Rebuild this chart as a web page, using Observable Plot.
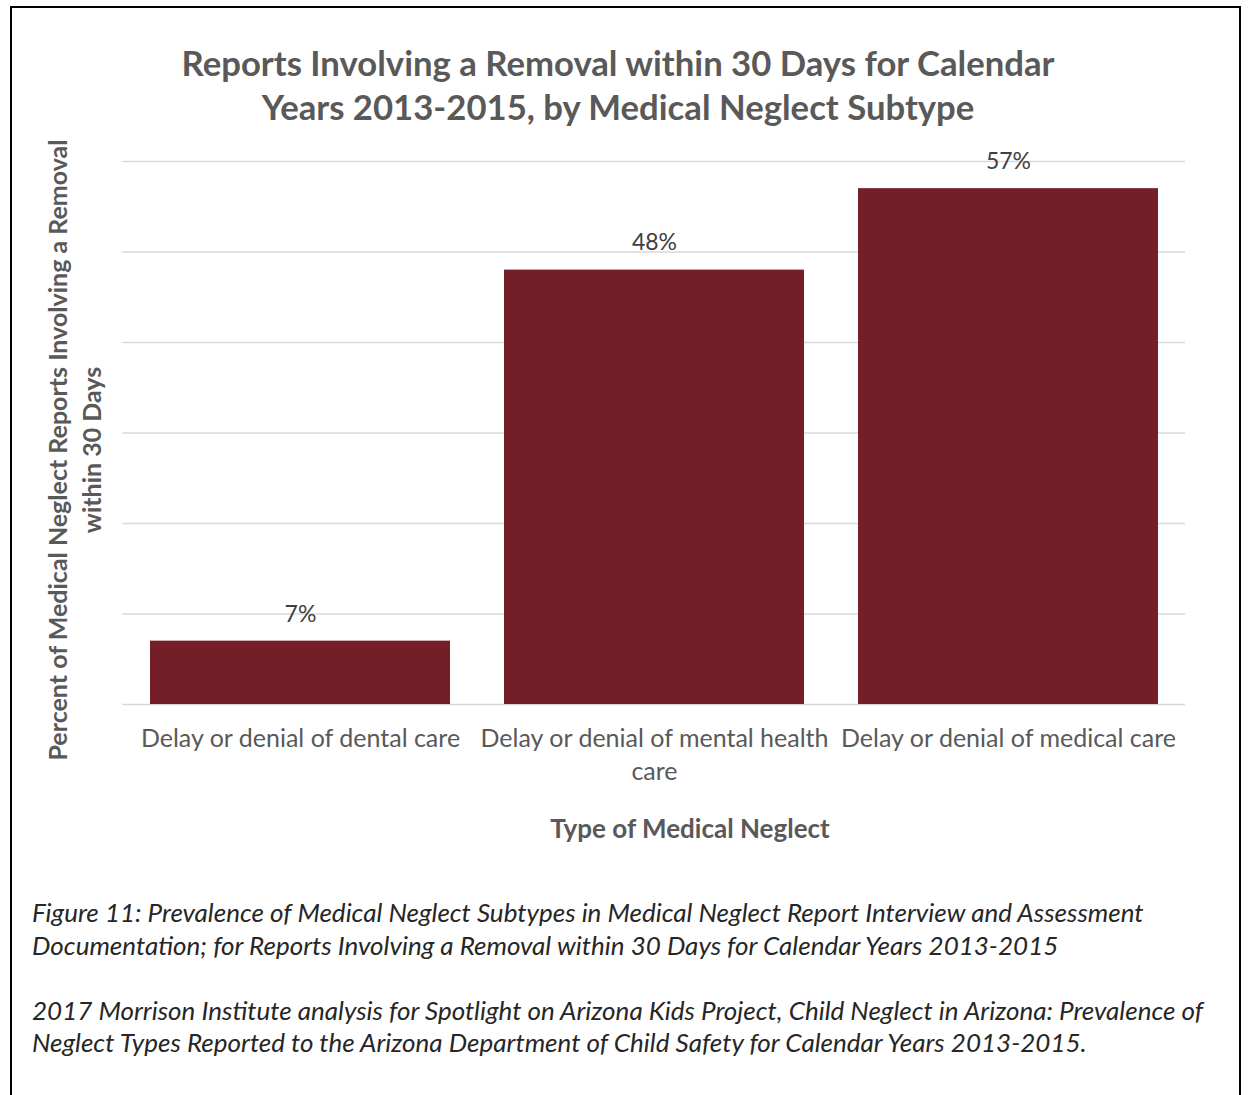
<!DOCTYPE html>
<html>
<head>
<meta charset="utf-8">
<script src="https://cdn.jsdelivr.net/npm/d3@7"></script>
<script src="https://cdn.jsdelivr.net/npm/@observablehq/plot@0.6"></script>
<style>
  html, body { margin: 0; padding: 0; background: #fff; }
  #page { position: relative; width: 1248px; height: 1095px; overflow: hidden; font-family: Lato, "Open Sans", sans-serif; }
  #frame { position: absolute; left: 10px; top: 6px; width: 1231px; height: 1100px; border: 2px solid #000; box-sizing: border-box; }
  #title { position: absolute; left: 0; width: 1236px; top: 41px; text-align: center; font-weight: 700; font-size: 34.7px; line-height: 44px; color: #595959; white-space: nowrap; }
  #ylabel { position: absolute; left: 74px; top: 450px; width: 800px; transform: translate(-50%, -50%) rotate(-90deg); text-align: center; font-weight: 700; font-size: 25px; line-height: 34px; color: #595959; white-space: nowrap; }
  #xlabel { position: absolute; left: 690px; top: 828px; transform: translate(-50%, -50%); font-weight: 700; font-size: 26px; color: #595959; white-space: nowrap; }
  #caption { position: absolute; left: 32px; top: 896px; font-style: italic; font-size: 26px; line-height: 32.5px; color: #262626; white-space: nowrap; }
  #caption p { margin: 0 0 32.5px 0; }
  #chart { position: absolute; left: 0; top: 0; }
</style>
</head>
<body>
<div id="page">
  <div id="chart"></div>
  <div id="frame"></div>
  <div id="title">Reports Involving a Removal within 30 Days for Calendar<br>Years 2013-2015, by Medical Neglect Subtype</div>
  <div id="ylabel">Percent of Medical Neglect Reports Involving a Removal<br>within 30 Days</div>
  <div id="xlabel">Type of Medical Neglect</div>
  <div id="caption">
    <p>Figure 11: Prevalence of Medical Neglect Subtypes in Medical Neglect Report Interview and Assessment<br>Documentation; for Reports Involving a Removal within 30 Days for Calendar Years 2013-2015</p>
    <p>2017 Morrison Institute analysis for Spotlight on Arizona Kids Project, Child Neglect in Arizona: Prevalence of<br>Neglect Types Reported to the Arizona Department of Child Safety for Calendar Years 2013-2015.</p>
  </div>
</div>
<script>
const categories = ["Delay or denial of dental care", "Delay or denial of mental health care", "Delay or denial of medical care"];
const tickLabels = ["Delay or denial of dental care", "Delay or denial of mental health\ncare", "Delay or denial of medical care"];
const values = [7, 48, 57];
const valueLabels = ["7%", "48%", "57%"];
const gridValues = [0, 10, 20, 30, 40, 50, 60];

const data = categories.map((c, i) => ({category: c, value: values[i], label: valueLabels[i]}));

const chart = Plot.plot({
  width: 1248,
  height: 860,
  marginTop: 161,
  marginBottom: 156,
  marginLeft: 122,
  marginRight: 63,
  style: {fontFamily: "Lato, 'Open Sans', sans-serif", background: "transparent"},
  x: {domain: categories, paddingInner: 0.153, paddingOuter: 0.076, label: null},
  y: {domain: [0, 60], axis: null},
  marks: [
    Plot.ruleY(gridValues, {stroke: "#d9d9d9", strokeWidth: 1.5}),
    Plot.barY(data, {x: "category", y: "value", fill: "#741f28"}),
    Plot.text(data, {x: "category", y: "value", text: "label", dy: -27, fontSize: 23, fill: "#404040"}),
    Plot.axisX({tickSize: 0, tickPadding: 19, fontSize: 25, fill: "#595959", tickFormat: (d) => tickLabels[categories.indexOf(d)], lineHeight: 1.32, label: null})
  ]
});
document.getElementById("chart").appendChild(chart);
</script>
</body>
</html>
